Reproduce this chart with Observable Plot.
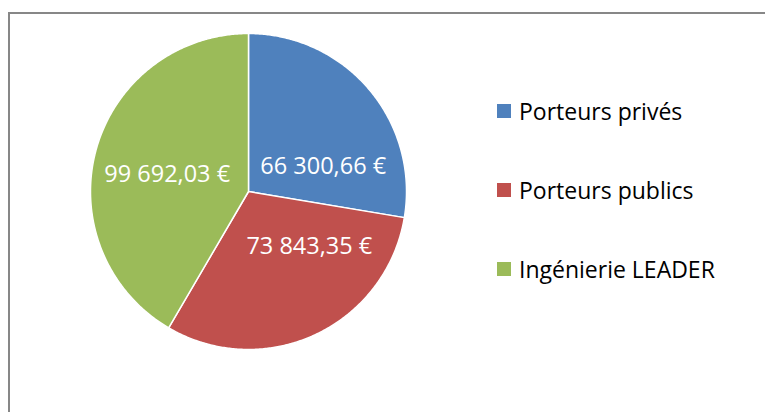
<!DOCTYPE html>
<html><head><meta charset="utf-8">
<script src="https://cdn.jsdelivr.net/npm/d3@7"></script>
<script src="https://cdn.jsdelivr.net/npm/@observablehq/plot@0.6"></script>
<style>
body{margin:0;width:765px;height:412px;overflow:hidden;position:relative;background:#fff;font-family:"Open Sans",sans-serif;}
#frame{position:absolute;left:8px;top:12px;width:900px;height:600px;border-left:2px solid #878787;border-top:2px solid #878787;}
#chart{position:absolute;left:0;top:0;}
#legend{position:absolute;left:497px;top:0;}
.row{position:absolute;left:0;display:flex;align-items:center;white-space:nowrap;font-size:23px;color:#000;}
.sw{width:14px;height:14px;margin-right:8px;flex:none;}
</style></head><body>
<div id="frame"></div><div id="chart"></div><div id="legend"></div>
<script>
const categories = ["Porteurs privés", "Porteurs publics", "Ingénierie LEADER"];
const values = [66300.66, 73843.35, 99692.03];
const colors = ["#4F81BD", "#C0504D", "#9BBB59"];

const fr = d3.formatLocale({decimal: ",", thousands: " ", grouping: [3], currency: ["", " €"]});
const fmt = fr.format("$,.2f");

const table = categories.map((c, i) => ({category: c, value: values[i]}));
const arcs = d3.pie().sort(null).value(d => d.value)(table);

// slice outlines as polygons in unit-circle coordinates
const poly = [];
arcs.forEach(a => {
  const c = a.data.category;
  poly.push({category: c, x: 0, y: 0});
  const n = Math.max(2, Math.ceil((a.endAngle - a.startAngle) / (Math.PI / 360)));
  for (let k = 0; k <= n; k++) {
    const t = a.startAngle + (a.endAngle - a.startAngle) * k / n;
    poly.push({category: c, x: Math.sin(t), y: Math.cos(t)});
  }
  poly.push({category: c, x: 0, y: 0});
});

const labels = arcs.map(a => {
  const m = (a.startAngle + a.endAngle) / 2;
  return {category: a.data.category, x: 0.52 * Math.sin(m), y: 0.52 * Math.cos(m), text: fmt(a.data.value)};
});
const offsets = [[12, 28], [26, -19], [-2, 4]];

const plot = Plot.plot({
  width: 765,
  height: 412,
  margin: 0,
  style: {background: "none", overflow: "visible"},
  x: {domain: [-1, 1], range: [90, 406], axis: null},
  y: {domain: [-1, 1], range: [349, 33], axis: null},
  color: {domain: categories, range: colors},
  marks: [
    Plot.line(poly, {x: "x", y: "y", z: "category", fill: "category", stroke: "white", strokeWidth: 1.5, strokeLinejoin: "round"}),
    ...labels.map((l, i) => Plot.text([l], {x: "x", y: "y", text: "text", fill: "white", fontSize: 23.5, fontFamily: "Open Sans", dx: offsets[i][0], dy: offsets[i][1]}))
  ]
});
document.getElementById("chart").appendChild(plot);

const color = plot.scale("color");
const legend = document.getElementById("legend");
categories.forEach((c, i) => {
  const row = document.createElement("div");
  row.className = "row";
  row.style.top = (96 + i * 79) + "px";
  row.style.height = "30px";
  const sw = document.createElement("span");
  sw.className = "sw";
  sw.style.background = color.apply(c);
  const tx = document.createElement("span");
  tx.textContent = c;
  row.appendChild(sw); row.appendChild(tx);
  legend.appendChild(row);
});
</script>
</body></html>
